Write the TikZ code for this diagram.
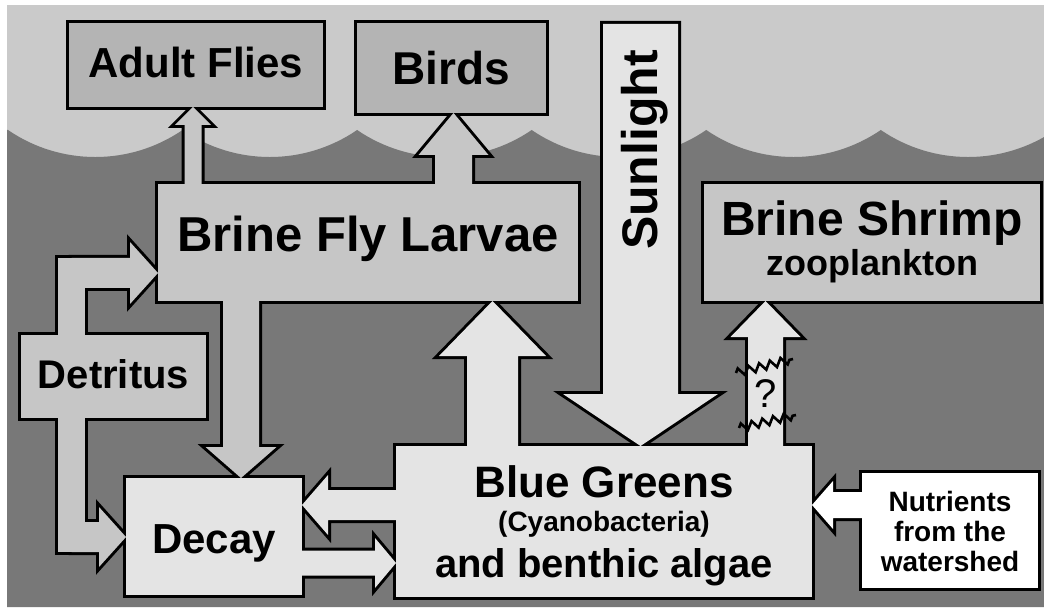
\documentclass[tikz,border=0pt]{standalone}
\usepackage{fontspec}
\setmainfont{Liberation Sans}
\usetikzlibrary{calc,decorations.pathmorphing}

\definecolor{skyc}{HTML}{CACACA}
\definecolor{waterc}{HTML}{787878}
\definecolor{upperbox}{HTML}{B4B4B4}
\definecolor{midbox}{HTML}{C6C6C6}
\definecolor{litebox}{HTML}{E4E4E4}

% sea: sky and water; rim: thick outlines; face: fills that trim the
% outlines to their outer halves, so touching shapes merge into one outline
\pgfdeclarelayer{sea}
\pgfdeclarelayer{rim}
\pgfdeclarelayer{face}
\pgfsetlayers{sea,rim,face,main}

\newcommand\fs[1]{\fontsize{#1}{#1}\selectfont}
% centred lines with a fixed baseline distance; reference point = first baseline
\newcommand\centerrows[2]{\vtop{\baselineskip=#1\lineskiplimit=-1000pt\relax
  \halign{\hfil##\hfil\cr#2\crcr}}}
% block arrow: name, base, tip, half shaft width, half head width, head length
\newcommand\blockarrow[6]{%
  \coordinate (#1-h) at ($(#3)!#6pt!(#2)$);
  \coordinate (#1-1) at ($(#2)!#4pt!90:(#3)$);
  \coordinate (#1-2) at ($(#1-h)!#4pt!90:(#3)$);
  \coordinate (#1-3) at ($(#1-h)!#5pt!90:(#3)$);
  \coordinate (#1-4) at (#3);
  \coordinate (#1-5) at ($(#1-h)!#5pt!-90:(#3)$);
  \coordinate (#1-6) at ($(#1-h)!#4pt!-90:(#3)$);
  \coordinate (#1-7) at ($(#2)!#4pt!-90:(#3)$);
}

\tikzset{
  boxnode/.style={rectangle, inner sep=0pt, outer sep=0pt, text depth=0pt},
  rimline/.style={draw=black, line width=6pt, line join=miter, miter limit=12},
  zz/.style={draw=black, line width=2.6pt, decorate,
    decoration={zigzag, amplitude=4pt, segment length=11pt}}
}

\begin{document}
\begin{tikzpicture}[x=1pt,y=-1pt]
\useasboundingbox (0,0) rectangle (1044,612);

% ---- boxes (text only; outlines and fills go on the layers below)
\node[boxnode, minimum width=254pt, minimum height=84pt, text height=26pt] (af) at (196,65)
  {\fs{42}\bfseries Adult Flies};
\node[boxnode, minimum width=189pt, minimum height=90pt, text height=33pt] (birds) at (451.5,68)
  {\fs{46}\bfseries Birds};
\node[boxnode, minimum width=420pt, minimum height=117pt, text height=19pt] (bfl) at (368,242.5)
  {\fs{49}\bfseries Brine Fly Larvae};
\node[boxnode, minimum width=185pt, minimum height=83pt, text height=23pt] (det) at (113.5,376.5)
  {\fs{40}\bfseries Detritus};
\node[boxnode, minimum width=176pt, minimum height=117pt, text height=33pt] (decay) at (214,536.5)
  {\fs{42}\bfseries Decay};
\node[boxnode, minimum width=416pt, minimum height=151pt, text height=0pt, text depth=49pt] (bg) at (604,521.5)
  {\bfseries\centerrows{34pt}{\fs{44}Blue Greens\cr\fs{28}(Cyanobacteria)\cr
   \noalign{\vskip12pt}\fs{40}and benthic algae}};
\node[boxnode, minimum width=336pt, minimum height=117pt, text height=0pt, text depth=13pt] (shrimp) at (872,242.5)
  {\bfseries\centerrows{40pt}{\fs{48}Brine Shrimp\cr\fs{36}zooplankton}};
\node[boxnode, minimum width=176pt, minimum height=115pt, text height=0pt, text depth=39pt] (nutr) at (950,530.5)
  {\bfseries\fs{28}\centerrows{30pt}{Nutrients\cr from the\cr watershed}};
\node[rotate=90, anchor=base, inner sep=0pt] (sun) at (657,150) {\fs{50}\bfseries Sunlight};

% ---- arrow geometry
\coordinate (afTip) at ($(af.south)+(-3,0)$);
\coordinate (afBase) at (afTip |- bfl.center);
\blockarrow{upAF}{afBase}{afTip}{8.5}{18}{18}

\coordinate (birdsTip) at ($(birds.south)+(2,0)$);
\coordinate (birdsBase) at (birdsTip |- bfl.center);
\blockarrow{upBirds}{birdsBase}{birdsTip}{18.5}{35}{42}

\coordinate (decayTip) at ($(decay.north)+(27,0)$);
\coordinate (decayBase) at (decayTip |- bfl.center);
\blockarrow{downDecay}{decayBase}{decayTip}{18}{35.5}{31}

\coordinate (sunTop) at (640.5,24);
\coordinate (sunTip) at (sunTop |- bg.north);
\blockarrow{sunRay}{sunTop}{sunTip}{37.5}{77.5}{52}

\coordinate (feedTip) at ($(bfl.south)+(124.5,0)$);
\coordinate (feedBase) at (feedTip |- bg.center);
\blockarrow{upFeed}{feedBase}{feedTip}{25.5}{53.5}{55}

\coordinate (shrimpTip) at ($(shrimp.south)+(-106.5,0)$);
\coordinate (shrimpBase) at (shrimpTip |- bg.center);
\blockarrow{upShrimp}{shrimpBase}{shrimpTip}{17.5}{35}{36}

\coordinate (rotTip) at ($(decay.east)+(0,-31.5)$);
\coordinate (rotBase) at (bg.center |- rotTip);
\blockarrow{toDecay}{rotBase}{rotTip}{15}{30}{26}

\coordinate (recTip) at ($(bg.west)+(0,41.5)$);
\coordinate (recBase) at (decay.center |- recTip);
\blockarrow{toBG}{recBase}{recTip}{12.5}{25}{21}

\coordinate (nutTip) at ($(bg.east)+(0,-16.5)$);
\coordinate (nutBase) at (nutr.center |- nutTip);
\blockarrow{nutFeed}{nutBase}{nutTip}{13}{24}{21}

% detritus bar with its two arrows
\coordinate (barN) at (71.5,258);
\coordinate (barS) at (71.5,552);
\coordinate (detTopTip) at ($(bfl.west)+(0,30.5)$);
\coordinate (detTopBase) at (barN |- detTopTip);
\blockarrow{detUp}{detTopBase}{detTopTip}{15}{31}{28}
\coordinate (detLowTip) at ($(decay.west)+(0,0.5)$);
\coordinate (detLowBase) at (barS |- detLowTip);
\blockarrow{detDown}{detLowBase}{detLowTip}{15}{30}{27}

% ---- sky and water
\begin{pgfonlayer}{sea}
  \fill[white] (0,0) rectangle (1044,612);
  \fill[skyc] (7,5) rectangle (1044,607);
  \begin{scope}
    \clip (7,5) rectangle (1044,607);
    \fill[waterc] (0,607) -- (0,130) -- (8,130)
      arc[start angle=124.4, end angle=55.6, radius=154.5]
      arc[start angle=124.4, end angle=55.6, radius=154.5]
      arc[start angle=124.4, end angle=55.6, radius=154.5]
      arc[start angle=124.4, end angle=55.6, radius=154.5]
      arc[start angle=124.4, end angle=55.6, radius=154.5]
      arc[start angle=124.4, end angle=55.6, radius=154.5]
      -- (1060,130) -- (1060,607) -- cycle;
  \end{scope}
\end{pgfonlayer}

% ---- outlines
\begin{pgfonlayer}{rim}
  \foreach \a in {upAF,upBirds,downDecay,sunRay,upFeed,upShrimp,toDecay,toBG,nutFeed,detUp,detDown}
    \draw[rimline] (\a-1) -- (\a-2) -- (\a-3) -- (\a-4) -- (\a-5) -- (\a-6) -- (\a-7) -- cycle;
  \foreach \b in {af,birds,bfl,det,decay,bg,shrimp,nutr}
    \draw[rimline] (\b.north west) rectangle (\b.south east);
  \draw[rimline] ($(barN)+(-13.5,0)$) rectangle ($(barS)+(13.5,0)$);
\end{pgfonlayer}

% ---- fills
\begin{pgfonlayer}{face}
  \foreach \a/\c in {upAF/midbox,upBirds/midbox,downDecay/midbox,sunRay/litebox,upFeed/litebox,
      upShrimp/litebox,toDecay/litebox,toBG/litebox,nutFeed/white,detUp/midbox,detDown/midbox}
    \fill[\c] (\a-1) -- (\a-2) -- (\a-3) -- (\a-4) -- (\a-5) -- (\a-6) -- (\a-7) -- cycle;
  \foreach \b/\c in {af/upperbox,birds/upperbox,bfl/midbox,det/midbox,decay/litebox,
      bg/litebox,shrimp/midbox,nutr/white}
    \fill[\c] (\b.north west) rectangle (\b.south east);
  \fill[midbox] ($(barN)+(-13.5,0)$) rectangle ($(barS)+(13.5,0)$);
\end{pgfonlayer}

% ---- uncertain link to the brine shrimp
\draw[zz] (736,373) -- (793,359);
\draw[zz] (739,428) -- (796,415);
\node[inner sep=0pt] (qm) at (766,394) {\fs{40}?};
\end{tikzpicture}
\end{document}
